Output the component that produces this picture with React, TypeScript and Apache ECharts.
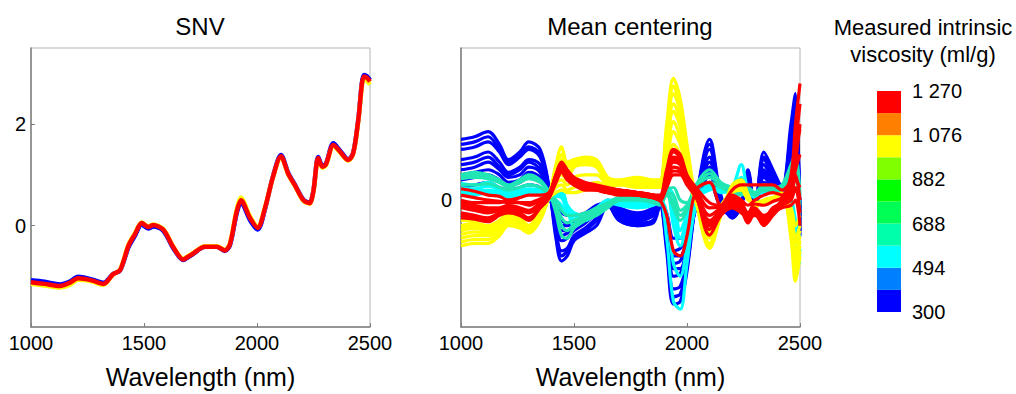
import React, { useEffect, useRef } from 'react';
import * as echarts from 'echarts';

const FONT = 'Liberation Sans, Arial, Helvetica, sans-serif';

// ---- SNV panel ----
const snvWl = [1000, 1060, 1128, 1170, 1209, 1268, 1320, 1364, 1394, 1431, 1460, 1490, 1519, 1541, 1585, 1630, 1674, 1696, 1711, 1770, 1822, 1858, 1880, 1910, 1929, 1969, 2003, 2035, 2072, 2106, 2139, 2168, 2205, 2232, 2249, 2271, 2289, 2305, 2338, 2367, 2404, 2426, 2448, 2473, 2485, 2500];
const snvBlue = [-1.08, -1.11, -1.16, -1.11, -1.01, -1.06, -1.13, -0.95, -0.89, -0.43, -0.2, 0.02, -0.06, -0.02, -0.1, -0.45, -0.68, -0.62, -0.58, -0.42, -0.42, -0.5, -0.39, 0.24, 0.46, 0.11, -0.08, 0.32, 0.99, 1.39, 1.03, 0.8, 0.51, 0.45, 0.67, 1.35, 1.18, 1.22, 1.62, 1.48, 1.3, 1.44, 2.08, 2.97, 2.95, 2.87];
const snvYellow = [-1.15, -1.18, -1.22, -1.17, -1.07, -1.1, -1.17, -0.96, -0.87, -0.38, -0.15, 0.06, -0.02, 0.02, -0.07, -0.42, -0.66, -0.6, -0.56, -0.41, -0.41, -0.48, -0.35, 0.31, 0.55, 0.18, -0.02, 0.35, 0.97, 1.35, 1.0, 0.78, 0.49, 0.43, 0.65, 1.31, 1.14, 1.19, 1.57, 1.44, 1.28, 1.42, 2.05, 2.9, 2.86, 2.78];
const snvRed = [-1.12, -1.15, -1.19, -1.13, -1.04, -1.08, -1.15, -0.955, -0.88, -0.4, -0.17, 0.05, -0.03, 0.01, -0.08, -0.43, -0.67, -0.61, -0.57, -0.42, -0.42, -0.49, -0.37, 0.275, 0.5, 0.15, -0.045, 0.34, 0.98, 1.365, 1.01, 0.79, 0.5, 0.44, 0.66, 1.33, 1.16, 1.205, 1.59, 1.46, 1.29, 1.43, 2.07, 2.94, 2.92, 2.84];

// ---- Mean centering panel ----
const mcWl = [1000, 1060, 1120, 1170, 1210, 1260, 1300, 1350, 1390, 1420, 1445, 1470, 1500, 1550, 1600, 1650, 1700, 1780, 1850, 1880, 1910, 1940, 1970, 2000, 2040, 2100, 2150, 2200, 2240, 2270, 2300, 2340, 2380, 2420, 2460, 2480, 2500];

const blue1 = [0.24, 0.25, 0.27, 0.22, 0.16, 0.19, 0.23, 0.2, 0.05, -0.15, -0.24, -0.22, -0.16, -0.13, -0.1, -0.02, -0.08, -0.1, -0.09, -0.02, -0.2, -0.41, -0.4, -0.28, 0.0, 0.24, 0.02, -0.07, -0.02, 0.12, -0.04, 0.19, 0.12, 0.05, 0.3, 0.42, -0.1];
const blue7 = [0.22, 0.23, 0.25, 0.2, 0.15, 0.18, 0.21, 0.18, 0.045, -0.13, -0.22, -0.2, -0.15, -0.12, -0.08, -0.02, -0.08, -0.1, -0.08, -0.02, -0.18, -0.38, -0.37, -0.26, 0.0, 0.22, 0.01, -0.07, -0.02, 0.11, -0.04, 0.17, 0.11, 0.05, 0.27, 0.39, -0.14];
const blue2 = [0.2, 0.21, 0.23, 0.19, 0.14, 0.17, 0.2, 0.17, 0.04, -0.12, -0.2, -0.19, -0.14, -0.11, -0.07, -0.01, -0.07, -0.09, -0.08, -0.01, -0.16, -0.35, -0.34, -0.24, -0.01, 0.2, 0.01, -0.06, -0.01, 0.1, -0.03, 0.16, 0.1, 0.04, 0.24, 0.36, -0.12];
const blue3 = [0.16, 0.17, 0.19, 0.15, 0.11, 0.13, 0.16, 0.14, 0.03, -0.09, -0.16, -0.15, -0.12, -0.09, -0.05, 0.0, -0.06, -0.08, -0.06, -0.01, -0.12, -0.3, -0.29, -0.2, -0.02, 0.17, 0.0, -0.05, -0.01, 0.08, -0.03, 0.14, 0.08, 0.03, 0.18, 0.3, -0.08];
const blue8 = [0.14, 0.15, 0.17, 0.13, 0.1, 0.12, 0.15, 0.12, 0.025, -0.08, -0.14, -0.13, -0.11, -0.08, -0.05, -0.01, -0.06, -0.08, -0.06, -0.01, -0.1, -0.27, -0.27, -0.18, -0.02, 0.15, 0.0, -0.05, -0.01, 0.07, -0.03, 0.12, 0.07, 0.03, 0.15, 0.27, -0.06];
const blue4 = [0.12, 0.13, 0.15, 0.12, 0.09, 0.1, 0.13, 0.11, 0.02, -0.06, -0.12, -0.12, -0.1, -0.08, -0.04, -0.01, -0.05, -0.07, -0.05, 0.0, -0.09, -0.25, -0.24, -0.17, -0.03, 0.13, -0.01, -0.04, 0.0, 0.06, -0.02, 0.11, 0.06, 0.02, 0.12, 0.24, -0.05];
const blue9 = [0.1, 0.11, 0.12, 0.1, 0.07, 0.08, 0.11, 0.09, 0.02, -0.05, -0.1, -0.1, -0.09, -0.07, -0.04, -0.01, -0.05, -0.07, -0.05, 0.0, -0.08, -0.22, -0.22, -0.15, -0.03, 0.11, -0.02, -0.05, 0.0, 0.05, -0.02, 0.1, 0.05, 0.02, 0.1, 0.21, -0.03];
const blue5 = [0.08, 0.09, 0.1, 0.08, 0.06, 0.07, 0.09, 0.08, 0.02, -0.04, -0.08, -0.09, -0.08, -0.06, -0.03, -0.02, -0.04, -0.06, -0.04, 0.0, -0.07, -0.2, -0.19, -0.14, -0.03, 0.1, -0.02, -0.05, 0.0, 0.04, -0.02, 0.09, 0.05, 0.02, 0.08, 0.18, -0.04];
const blue6 = [0.05, 0.06, 0.07, 0.05, 0.04, 0.05, 0.06, 0.05, 0.01, -0.02, -0.05, -0.06, -0.06, -0.05, -0.02, -0.01, -0.03, -0.05, -0.03, 0.0, -0.05, -0.15, -0.15, -0.1, -0.02, 0.07, -0.03, -0.06, -0.01, 0.03, -0.02, 0.07, 0.04, 0.01, 0.05, 0.12, -0.02];

const cyan1 = [0.065, 0.06, 0.07, 0.05, 0.03, 0.05, 0.06, 0.05, 0.02, 0.0, -0.02, -0.05, -0.06, -0.08, -0.05, -0.01, -0.02, -0.03, -0.02, 0.0, -0.15, -0.4, -0.43, -0.25, -0.02, 0.06, 0.03, 0.05, 0.14, 0.04, 0.01, 0.05, 0.04, 0.03, -0.05, -0.12, -0.2];
const cyan4 = [0.05, 0.045, 0.055, 0.04, 0.025, 0.04, 0.045, 0.04, 0.015, 0.015, 0.01, -0.04, -0.08, -0.075, -0.045, -0.01, -0.015, -0.025, -0.015, 0.0, -0.05, -0.25, -0.3, -0.18, 0.0, 0.055, 0.035, 0.04, 0.09, 0.035, 0.015, 0.045, 0.045, 0.025, -0.06, -0.15, -0.22];
const cyan2 = [0.04, 0.035, 0.04, 0.03, 0.02, 0.03, 0.035, 0.03, 0.01, 0.03, 0.04, -0.03, -0.1, -0.07, -0.04, -0.01, -0.01, -0.02, -0.01, 0.0, 0.04, -0.1, -0.18, -0.1, 0.02, 0.05, 0.04, 0.03, 0.05, 0.03, 0.02, 0.04, 0.05, 0.02, -0.08, -0.18, -0.25];
const cyan5 = [0.03, 0.028, 0.035, 0.025, 0.01, 0.025, 0.032, 0.025, 0.005, 0.025, 0.03, -0.025, -0.075, -0.065, -0.035, -0.005, -0.005, -0.015, -0.005, 0.005, 0.045, -0.04, -0.15, -0.08, 0.015, 0.045, 0.045, 0.025, 0.04, 0.025, 0.025, 0.035, 0.045, 0.015, -0.04, -0.13, -0.2];
const cyan3 = [0.02, 0.02, 0.03, 0.02, 0.0, 0.02, 0.03, 0.02, 0.0, 0.02, 0.02, -0.02, -0.05, -0.06, -0.03, 0.0, 0.0, -0.01, 0.0, 0.01, 0.05, 0.02, -0.12, -0.06, 0.01, 0.04, 0.05, 0.02, 0.03, 0.02, 0.03, 0.03, 0.04, 0.01, 0.0, -0.08, -0.15];

const teal1 = [0.1, 0.11, 0.1, 0.08, 0.06, 0.08, 0.1, 0.08, 0.03, -0.05, -0.14, -0.15, -0.11, -0.08, -0.06, -0.03, 0.0, 0.0, -0.01, -0.02, 0.02, -0.03, -0.08, -0.04, 0.06, 0.12, 0.07, 0.05, 0.04, 0.05, 0.03, 0.06, 0.05, 0.06, 0.14, 0.18, 0.02];
const teal4 = [0.095, 0.1, 0.092, 0.075, 0.055, 0.075, 0.092, 0.075, 0.03, -0.035, -0.1, -0.12, -0.095, -0.07, -0.05, -0.025, 0.0, 0.005, -0.005, -0.015, 0.025, -0.005, -0.06, -0.03, 0.055, 0.105, 0.065, 0.045, 0.035, 0.045, 0.025, 0.055, 0.045, 0.055, 0.12, 0.16, -0.02];
const teal2 = [0.085, 0.09, 0.085, 0.07, 0.05, 0.07, 0.085, 0.07, 0.03, -0.02, -0.07, -0.09, -0.08, -0.06, -0.04, -0.02, 0.0, 0.01, 0.0, -0.01, 0.03, 0.02, -0.04, -0.02, 0.05, 0.09, 0.06, 0.04, 0.03, 0.04, 0.02, 0.05, 0.04, 0.05, 0.1, 0.14, -0.05];
const teal3 = [0.06, 0.06, 0.065, 0.05, 0.04, 0.05, 0.06, 0.05, 0.02, 0.0, -0.04, -0.06, -0.06, -0.05, -0.03, -0.01, 0.01, 0.01, 0.0, 0.0, 0.04, 0.05, 0.0, -0.01, 0.04, 0.07, 0.05, 0.03, 0.02, 0.03, 0.02, 0.04, 0.03, 0.04, 0.07, 0.1, -0.1];

const yellow1 = [-0.18, -0.17, -0.17, -0.14, -0.1, -0.11, -0.13, -0.08, 0.02, 0.14, 0.21, 0.15, 0.16, 0.17, 0.16, 0.09, 0.08, 0.09, 0.08, 0.08, 0.3, 0.48, 0.4, 0.22, 0.0, -0.19, -0.06, 0.06, 0.08, 0.02, -0.03, 0.0, 0.01, 0.03, -0.15, -0.32, -0.22];
const yellow6 = [-0.165, -0.155, -0.155, -0.13, -0.09, -0.1, -0.12, -0.075, 0.02, 0.12, 0.18, 0.14, 0.155, 0.165, 0.155, 0.085, 0.075, 0.085, 0.075, 0.075, 0.28, 0.45, 0.37, 0.2, 0.0, -0.18, -0.055, 0.055, 0.075, 0.02, -0.025, 0.0, 0.01, 0.025, -0.13, -0.29, -0.2];
const yellow2 = [-0.15, -0.14, -0.14, -0.12, -0.08, -0.09, -0.11, -0.07, 0.02, 0.11, 0.16, 0.13, 0.15, 0.16, 0.15, 0.08, 0.07, 0.08, 0.07, 0.07, 0.26, 0.42, 0.35, 0.19, 0.0, -0.17, -0.05, 0.05, 0.07, 0.02, -0.02, 0.0, 0.01, 0.02, -0.12, -0.26, -0.18];
const yellow7 = [-0.135, -0.125, -0.13, -0.11, -0.07, -0.085, -0.105, -0.065, 0.015, 0.09, 0.13, 0.1, 0.14, 0.15, 0.14, 0.075, 0.07, 0.075, 0.07, 0.065, 0.24, 0.38, 0.32, 0.17, 0.0, -0.15, -0.045, 0.045, 0.065, 0.015, -0.02, -0.005, 0.005, 0.02, -0.1, -0.23, -0.16];
const yellow3 = [-0.12, -0.11, -0.12, -0.1, -0.06, -0.08, -0.1, -0.06, 0.01, 0.08, 0.1, 0.08, 0.13, 0.14, 0.13, 0.07, 0.07, 0.07, 0.07, 0.06, 0.22, 0.35, 0.29, 0.16, 0.0, -0.14, -0.04, 0.04, 0.06, 0.01, -0.02, -0.01, 0.0, 0.02, -0.08, -0.2, -0.14];
const yellow8 = [-0.11, -0.1, -0.11, -0.09, -0.055, -0.075, -0.1, -0.055, 0.01, 0.065, 0.08, 0.06, 0.09, 0.1, 0.1, 0.065, 0.065, 0.065, 0.065, 0.055, 0.18, 0.31, 0.25, 0.14, -0.005, -0.13, -0.035, 0.035, 0.055, 0.01, -0.02, -0.01, 0.0, 0.015, -0.065, -0.17, -0.12];
const yellow4 = [-0.1, -0.09, -0.1, -0.08, -0.05, -0.07, -0.1, -0.05, 0.01, 0.05, 0.06, 0.04, 0.05, 0.06, 0.07, 0.06, 0.06, 0.06, 0.06, 0.05, 0.15, 0.27, 0.22, 0.12, -0.01, -0.12, -0.03, 0.03, 0.05, 0.01, -0.02, -0.01, 0.0, 0.01, -0.05, -0.15, -0.1];
const yellow5 = [-0.08, -0.08, -0.08, -0.06, -0.04, -0.06, -0.08, -0.04, 0.01, 0.03, 0.04, 0.03, 0.03, 0.04, 0.05, 0.05, 0.06, 0.05, 0.05, 0.05, 0.1, 0.22, 0.18, 0.1, -0.01, -0.1, -0.02, 0.03, 0.04, 0.0, -0.01, 0.0, 0.01, 0.01, -0.03, -0.1, -0.06];

const red1 = [0.045, 0.035, 0.02, 0.015, 0.0, 0.01, 0.02, 0.02, 0.03, 0.1, 0.15, 0.12, 0.09, 0.07, 0.06, 0.05, 0.04, 0.03, 0.02, 0.02, 0.12, 0.2, 0.18, 0.1, 0.05, -0.01, -0.02, 0.02, 0.0, -0.02, 0.0, 0.02, 0.03, 0.02, 0.1, 0.3, 0.46];
const red9 = [0.02, 0.01, 0.0, -0.005, -0.01, -0.01, -0.01, 0.005, 0.025, 0.1, 0.145, 0.115, 0.085, 0.065, 0.055, 0.045, 0.04, 0.03, 0.02, 0.015, 0.11, 0.19, 0.17, 0.095, 0.04, -0.03, -0.025, 0.01, -0.01, -0.05, -0.015, -0.02, -0.005, 0.01, 0.08, 0.22, 0.38];
const red2 = [-0.01, -0.02, -0.03, -0.03, -0.02, -0.03, -0.04, -0.01, 0.02, 0.1, 0.14, 0.11, 0.08, 0.06, 0.05, 0.04, 0.04, 0.03, 0.02, 0.01, 0.1, 0.17, 0.16, 0.09, 0.03, -0.06, -0.03, 0.0, -0.02, -0.08, -0.03, -0.06, -0.04, 0.0, 0.05, 0.15, 0.3];
const red7 = [-0.02, -0.03, -0.04, -0.035, -0.025, -0.035, -0.045, -0.015, 0.02, 0.095, 0.135, 0.105, 0.075, 0.055, 0.05, 0.04, 0.035, 0.03, 0.02, 0.01, 0.09, 0.16, 0.15, 0.085, 0.025, -0.08, -0.04, -0.005, -0.03, -0.085, -0.04, -0.08, -0.05, -0.01, 0.035, 0.12, 0.18];
const red3 = [-0.03, -0.04, -0.05, -0.04, -0.03, -0.04, -0.05, -0.02, 0.02, 0.09, 0.13, 0.1, 0.07, 0.05, 0.05, 0.04, 0.03, 0.03, 0.02, 0.01, 0.08, 0.15, 0.14, 0.08, 0.02, -0.1, -0.05, -0.01, -0.04, -0.09, -0.05, -0.1, -0.06, -0.02, 0.02, 0.08, 0.05];
const red4 = [-0.05, -0.06, -0.07, -0.05, -0.04, -0.05, -0.07, -0.03, 0.01, 0.08, 0.12, 0.09, 0.06, 0.05, 0.04, 0.03, 0.03, 0.02, 0.01, 0.0, 0.07, 0.13, 0.12, 0.07, 0.02, -0.138, -0.06, -0.03, -0.05, -0.07, -0.06, -0.09, -0.05, -0.03, -0.02, 0.0, -0.1];
const red8 = [-0.06, -0.068, -0.078, -0.055, -0.045, -0.055, -0.075, -0.03, 0.01, 0.075, 0.115, 0.085, 0.06, 0.045, 0.04, 0.03, 0.025, 0.02, 0.01, 0.0, 0.06, 0.115, 0.11, 0.065, 0.015, -0.115, -0.05, -0.025, -0.04, -0.065, -0.05, -0.08, -0.04, -0.02, 0.0, 0.05, -0.05];
const red5 = [-0.07, -0.075, -0.085, -0.06, -0.05, -0.06, -0.08, -0.03, 0.01, 0.07, 0.11, 0.08, 0.06, 0.04, 0.04, 0.03, 0.02, 0.02, 0.01, 0.0, 0.05, 0.1, 0.1, 0.06, 0.01, -0.09, -0.04, -0.02, -0.03, -0.06, -0.04, -0.07, -0.03, -0.01, 0.03, 0.1, 0.0];
const red6 = [0.0, -0.01, -0.01, -0.01, 0.0, -0.01, -0.02, 0.0, 0.02, 0.09, 0.13, 0.11, 0.08, 0.06, 0.05, 0.04, 0.03, 0.02, 0.01, 0.0, -0.06, -0.2, -0.22, -0.14, 0.04, 0.07, -0.02, 0.04, 0.06, 0.06, 0.06, 0.06, 0.06, 0.04, 0.08, 0.2, 0.28];

const mcGroups = [
  { color: '#0000FF', lines: [blue1, blue7, blue2, blue3, blue8, blue4, blue9, blue5, blue6] },
  { color: '#00FFFF', lines: [cyan1, cyan4, cyan2, cyan5, cyan3] },
  { color: '#20E6B4', lines: [teal1, teal4, teal2, teal3] },
  { color: '#FFFF00', lines: [yellow1, yellow6, yellow2, yellow7, yellow3, yellow8, yellow4, yellow5] },
  { color: '#FF0000', lines: [red1, red9, red2, red7, red3, red4, red8, red5, red6] },
];

// ---- Colour scale ----
const scaleTicks = [300, 494, 688, 882, 1076, 1270];
const scaleColors = ['#0000FF', '#0080FF', '#00FFFF', '#00FFAA', '#00FF55', '#00FF00', '#80FF00', '#FFFF00', '#FF8000', '#FF0000'];

const fmtScale = (v: number) =>
  v >= 1000 ? `${Math.floor(v / 1000)} ${String(v % 1000).padStart(3, '0')}` : String(v);

export default function App() {
  const ref = useRef<HTMLDivElement>(null);

  useEffect(() => {
    if (!ref.current) return;
    const chart = echarts.init(ref.current, undefined, { renderer: 'svg' });

    const axisGray = '#7f7f7f';
    const xAxisBase = (gridIndex: number) => ({
      type: 'value',
      gridIndex,
      min: 1000,
      max: 2500,
      interval: 500,
      axisLine: { show: true, onZero: false, lineStyle: { color: axisGray, width: 1.5 } },
      axisTick: { show: true, inside: true, length: 4, lineStyle: { color: axisGray } },
      axisLabel: { fontSize: 20, color: '#000', margin: 6, fontFamily: FONT, formatter: (v: number) => String(v) },
      splitLine: { show: false },
      name: 'Wavelength (nm)',
      nameLocation: 'middle',
      nameGap: 37,
      nameTextStyle: { fontSize: 25, color: '#000', fontFamily: FONT },
    });

    const snvData = (vals: number[]) => snvWl.map((w, i) => [w, vals[i]]);
    const series: any[] = [];
    [
      { c: '#0000FF', v: snvBlue },
      { c: '#FFFF00', v: snvYellow },
      { c: '#FF0000', v: snvRed },
    ].forEach((s) =>
      series.push({
        type: 'line',
        xAxisIndex: 0,
        yAxisIndex: 0,
        data: snvData(s.v),
        showSymbol: false,
        symbol: 'none',
        smooth: 0.3,
        silent: true,
        lineStyle: { color: s.c, width: 4.5 },
      })
    );

    mcGroups.forEach((g) =>
      g.lines.forEach((vals) =>
        series.push({
          type: 'line',
          xAxisIndex: 1,
          yAxisIndex: 1,
          data: mcWl.map((w, i) => [w, vals[i]]),
          showSymbol: false,
          symbol: 'none',
          smooth: 0.35,
          silent: true,
          lineStyle: { color: g.color, width: 3.2 },
        })
      )
    );

    // colour bar cells, bounded at the midpoints between scale ticks
    const cells: number[][] = [];
    for (let i = 0; i < scaleTicks.length - 1; i++) {
      const lo = scaleTicks[i];
      const hi = scaleTicks[i + 1];
      const mid = (lo + hi) / 2;
      cells.push([lo, mid, i * 2]);
      cells.push([mid, hi, i * 2 + 1]);
    }
    series.push({
      type: 'custom',
      xAxisIndex: 2,
      yAxisIndex: 2,
      silent: true,
      data: cells,
      renderItem: (params: any, api: any) => {
        const p1 = api.coord([0, api.value(1)]);
        const p2 = api.coord([1, api.value(0)]);
        return {
          type: 'rect',
          shape: { x: p1[0], y: p1[1], width: p2[0] - p1[0], height: p2[1] - p1[1] },
          style: { fill: scaleColors[api.value(2)], stroke: null },
        };
      },
    });

    chart.setOption({
      animation: false,
      backgroundColor: '#fff',
      grid: [
        { left: 31, top: 48, width: 339, height: 286, show: true, borderColor: '#b4b4b4', borderWidth: 1, backgroundColor: 'transparent' },
        { left: 461, top: 48, width: 339, height: 286, show: true, borderColor: '#b4b4b4', borderWidth: 1, backgroundColor: 'transparent' },
        { left: 877, top: 91, width: 24, height: 221, show: false },
      ],
      xAxis: [
        xAxisBase(0),
        xAxisBase(1),
        { type: 'value', gridIndex: 2, min: 0, max: 1, show: false },
      ],
      yAxis: [
        {
          type: 'value',
          gridIndex: 0,
          min: -2,
          max: 3.5,
          axisLine: { show: true, onZero: false, lineStyle: { color: axisGray, width: 1.5 } },
          axisTick: { show: true, inside: true, length: 4, customValues: [0, 2], lineStyle: { color: axisGray } },
          axisLabel: { fontSize: 20, color: '#000', margin: 5, fontFamily: FONT, customValues: [0, 2] },
          splitLine: { show: false },
        },
        {
          type: 'value',
          gridIndex: 1,
          min: -0.5,
          max: 0.6,
          axisLine: { show: true, onZero: false, lineStyle: { color: axisGray, width: 1.5 } },
          axisTick: { show: true, inside: true, length: 4, customValues: [0], lineStyle: { color: axisGray } },
          axisLabel: { fontSize: 20, color: '#000', margin: 9, fontFamily: FONT, customValues: [0] },
          splitLine: { show: false },
        },
        {
          type: 'value',
          gridIndex: 2,
          min: 300,
          max: 1270,
          position: 'right',
          axisLine: { show: false },
          axisTick: { show: false },
          splitLine: { show: false },
          axisLabel: {
            fontSize: 20,
            color: '#000',
            margin: 11,
            fontFamily: FONT,
            customValues: scaleTicks,
            formatter: (v: number) => fmtScale(v),
          },
        },
      ],
      graphic: [
        { type: 'text', x: 200, y: 26, style: { text: 'SNV', fontSize: 24, fontFamily: FONT, fill: '#000', textAlign: 'center', textVerticalAlign: 'middle' } },
        { type: 'text', x: 630, y: 26, style: { text: 'Mean centering', fontSize: 24, fontFamily: FONT, fill: '#000', textAlign: 'center', textVerticalAlign: 'middle' } },
        { type: 'text', x: 923, y: 41, style: { text: 'Measured intrinsic\nviscosity (ml/g)', fontSize: 22, lineHeight: 27, fontFamily: FONT, fill: '#000', textAlign: 'center', textVerticalAlign: 'middle' } },
      ],
      series,
    });

    return () => chart.dispose();
  }, []);

  return (
    <div
      ref={ref}
      style={{ position: 'fixed', left: 0, top: 0, width: 1016, height: 394, background: '#fff' }}
    />
  );
}
